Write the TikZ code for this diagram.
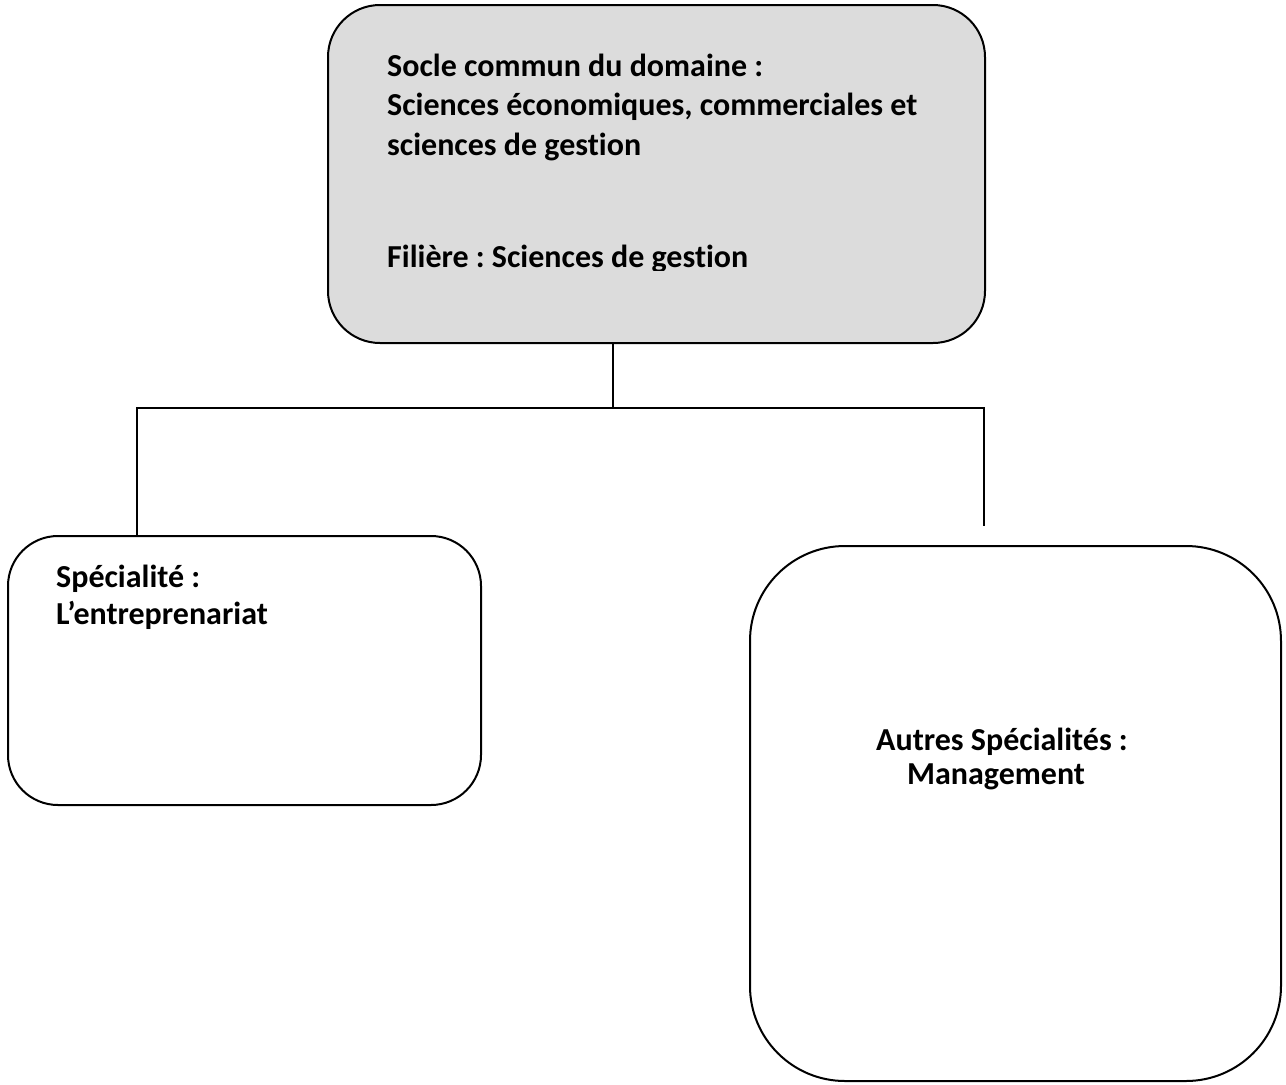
\documentclass[tikz,border=0pt]{standalone}
\usepackage{fontspec}
\setmainfont{Carlito}[Ligatures=NoCommon]
\frenchspacing
\definecolor{boxgray}{RGB}{220,220,220}
\begin{document}
\begin{tikzpicture}[x=1pt,y=-1pt,
  box/.style={draw=black,line width=2pt,rectangle,inner sep=0pt},
  lbl/.style={anchor=base west,inner sep=0pt,align=left,font=\fontsize{32}{38}\selectfont\bfseries\frenchspacing},
  conn/.style={draw=black,line width=2pt}]
\useasboundingbox (0,0) rectangle (1286,1085);
\fill[white] (0,0) rectangle (1286,1085);
% boxes
\node[box,fill=boxgray,rounded corners=52pt,minimum width=657pt,minimum height=338pt] (top) at (656.5,174) {};
\node[box,rounded corners=50pt,minimum width=473pt,minimum height=269pt] (left) at (244.5,670.5) {};
\node[box,rounded corners=95pt,minimum width=531pt,minimum height=535pt] (right) at (1015.5,813.5) {};
% texts (base anchor = baseline of last line)
\node[lbl,font=\fontsize{32}{39.5}\selectfont\bfseries\frenchspacing] (t1) at (387,155) {Socle commun du domaine :\\Sciences économiques, commerciales et\\sciences de gestion};
\begin{scope}
\clip (330,200) rectangle (980,270);
\node[lbl] (t2) at (387,267) {Filière : Sciences de gestion};
\end{scope}
\node[lbl,font=\fontsize{32}{37}\selectfont\bfseries\frenchspacing] (t3) at (56,624) {Spécialité :\\L’entreprenariat};
\node[lbl] (t4) at (876,750) {Autres Spécialités :};
\node[lbl] (t5) at (907,784) {Management};
% connectors
\coordinate (j) at (613,408);
\coordinate (jl) at (137,408);
\coordinate (jr) at (984,408);
\coordinate (rend) at (984,526);
\draw[conn] (top.south -| j) -- (j);
\draw[conn] (left.north -| jl) -- (jl) -- (jr) -- (rend);
\end{tikzpicture}
\end{document}
